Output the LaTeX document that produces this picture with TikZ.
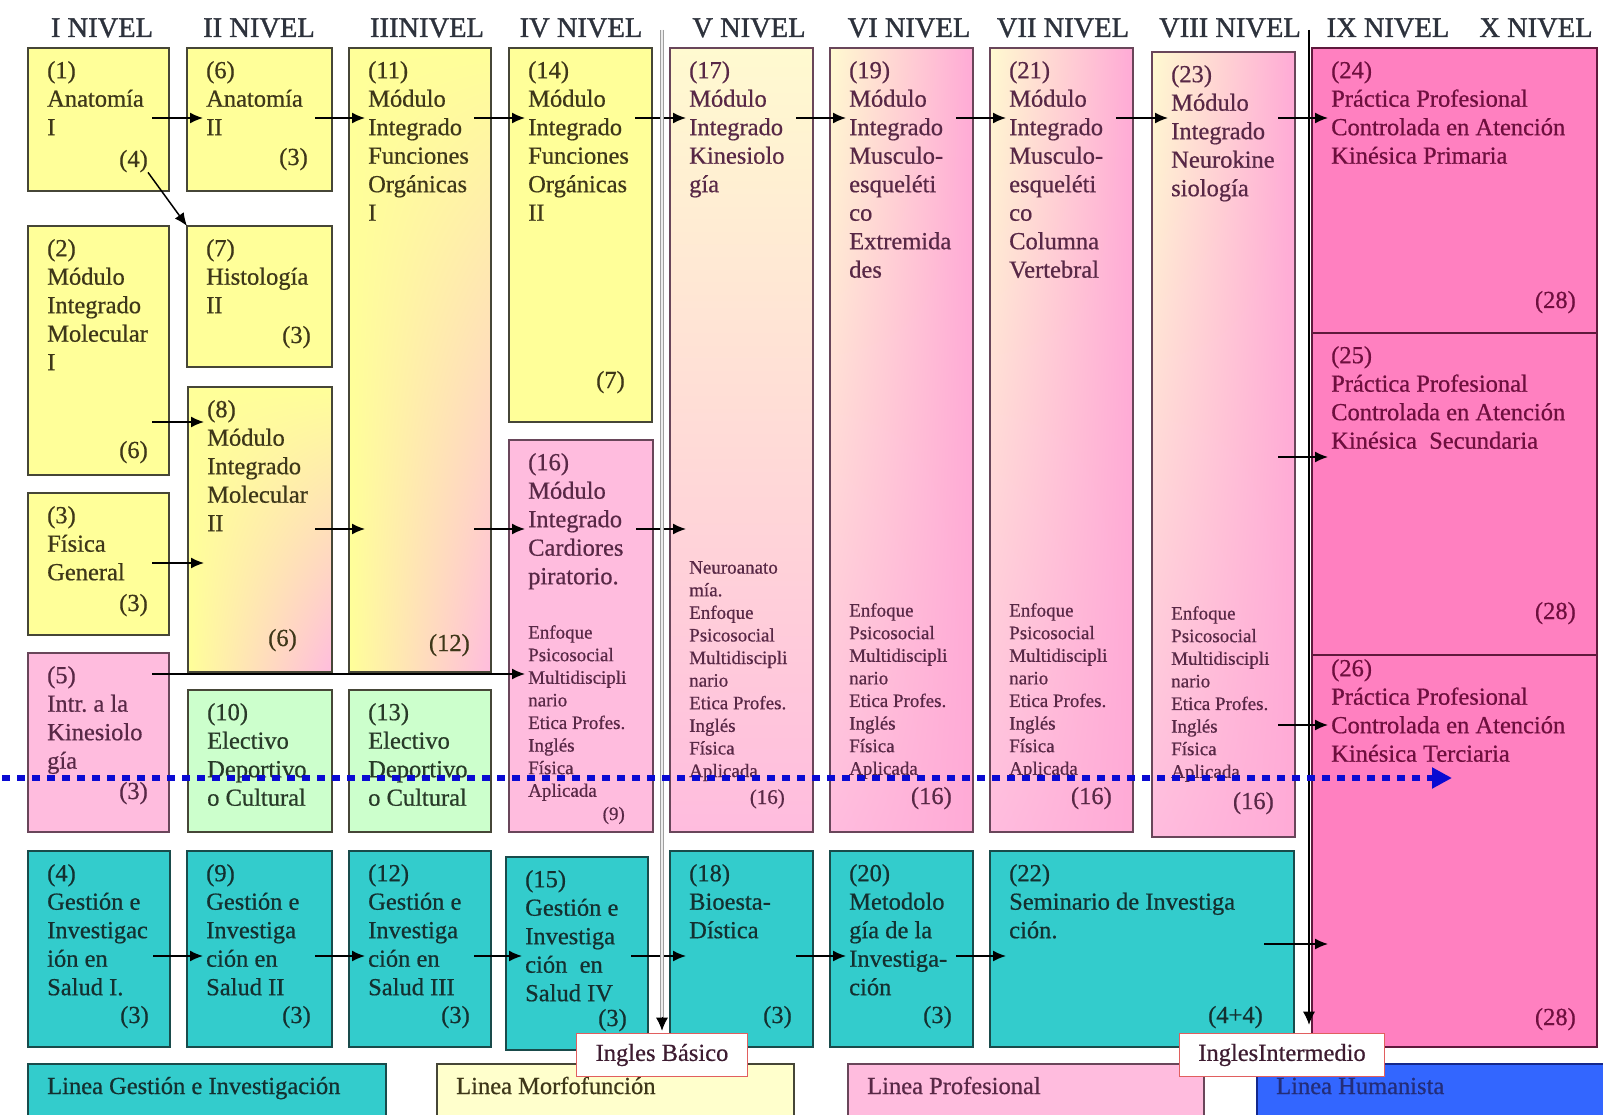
\documentclass[tikz,border=0pt]{standalone}
\usepackage{fontspec}
\setmainfont{Liberation Serif}[FakeBold=0.6]
\newfontfamily\nivelfont{Liberation Serif}[FakeBold=1.2]
\usepackage{tikz}
\usetikzlibrary{arrows.meta}
\usetikzlibrary{shadings}
\frenchspacing

\definecolor{morfo}{RGB}{255,255,153}
\definecolor{morfopale}{RGB}{255,255,204}
\definecolor{cream}{RGB}{255,250,208}
\definecolor{prof}{RGB}{255,188,222}
\definecolor{profdeep}{RGB}{255,170,214}
\definecolor{electivo}{RGB}{204,255,204}
\definecolor{gestion}{RGB}{51,204,204}
\definecolor{practica}{RGB}{255,128,192}
\definecolor{humanista}{RGB}{51,102,255}
\definecolor{inkmorfo}{RGB}{62,55,25}
\definecolor{inkprof}{RGB}{88,40,70}
\definecolor{inkpract}{RGB}{110,15,62}
\definecolor{inkgest}{RGB}{20,48,48}
\definecolor{inkelect}{RGB}{40,58,40}
\definecolor{inkhum}{RGB}{35,45,120}
\definecolor{inknivel}{RGB}{45,50,60}
\definecolor{edge}{RGB}{70,70,55}
\definecolor{edgeprof}{RGB}{105,70,90}
\definecolor{edgegest}{RGB}{25,75,75}
\definecolor{edgepract}{RGB}{95,25,60}
\definecolor{edgehum}{RGB}{20,40,140}
\definecolor{dots}{RGB}{10,10,210}
\definecolor{inglesedge}{RGB}{225,95,95}

\tikzset{
  box/.style={draw=edge, line width=1.6pt, inner sep=0pt, outer sep=0pt},
  morfobox/.style={fill=morfo},
  profbox/.style={fill=prof, draw=edgeprof},
  electbox/.style={fill=electivo},
  gestbox/.style={fill=gestion, draw=edgegest},
  practbox/.style={fill=practica, draw=edgepract},
  morfograd/.style={upper left=morfo, upper right=morfo, lower left=morfo, lower right=prof},
  kinegrad/.style={upper left=cream, upper right=cream, lower left=prof, lower right=prof, draw=edgeprof},
  musgrad/.style={upper left=cream, upper right=profdeep, lower left=prof, lower right=profdeep, draw=edgeprof},
  txt/.style={inner sep=0pt, align=left, font=\fontsize{24.5}{28.5}\selectfont, text=inkmorfo},
  list/.style={inner sep=0pt, align=left, font=\fontsize{19}{22.6}\selectfont, text=inkprof},
  proftxt/.style={text=inkprof},
  practtxt/.style={text=inkpract},
  gesttxt/.style={text=inkgest},
  electtxt/.style={text=inkelect},
  nivel/.style={inner sep=0pt, anchor=base, font=\nivelfont\fontsize{28.5}{30}\selectfont, text=inknivel},
  arr/.style={line width=1.5pt, -{Latex[length=13pt,width=11pt]}},
  greyline/.style={draw=gray!75, double=gray!15, double distance=1.8pt, line width=1.3pt},
  blackline/.style={black, line width=1.6pt},
  tipdown/.style={line width=1pt, -{Latex[length=13pt,width=12pt]}},
  dotline/.style={dots, line width=6pt, dash pattern=on 8pt off 7pt, -{Triangle[length=20pt,width=20pt]}},
  ingles/.style={draw=inglesedge, line width=1.6pt, fill=white, inner xsep=19pt, minimum height=43pt,
    font=\fontsize{24.5}{28.5}\selectfont, text=inkprof!70!black},
}

% box with its text: [text style]{name}{x,y}{width}{height}{box style}{text}
\newcommand\course[7][]{%
  \node[box,#6,minimum width=#4pt,minimum height=#5pt,anchor=north west] (#2) at (#3) {};
  \node[txt,anchor=north west,#1] (#2-t) at ([xshift=19pt,yshift=-13pt]#2.north west) {#7};}
% credits in the lower right corner
\newcommand\credit[3][]{%
  \node[txt,anchor=base east,#1] (#2-cr) at ([xshift=-21pt,yshift=24pt]#2.south east) {(#3)};}

\begin{document}
\begin{tikzpicture}[x=1pt,y=-1pt]
  \useasboundingbox (0,0) rectangle (1603,1115);
  \clip (0,0) rectangle (1603,1115);
  \fill[white] (0,0) rectangle (1603,1115);

  % levels
  \foreach \x/\t [count=\i] in {102/I NIVEL, 259/II NIVEL, 427/IIINIVEL, 581/IV NIVEL, 749/V NIVEL,
      909/VI NIVEL, 1063/VII NIVEL, 1230/VIII NIVEL, 1388/IX NIVEL, 1536/X NIVEL}
    \node[nivel] (n\i) at (\x,37) {\t};

  % first row
  \course{c1}{28,48}{141}{143}{morfobox}{(1)\\Anatomía\\I}
  \course{c6}{187,48}{145}{143}{morfobox}{(6)\\Anatomía\\II}
  \course{c11}{349,48}{142}{624}{morfograd}{(11)\\Módulo\\Integrado\\Funciones\\Orgánicas\\I}
  \course{c14}{509,48}{143}{374}{morfobox}{(14)\\Módulo\\Integrado\\Funciones\\Orgánicas\\II}
  \course[proftxt]{c17}{670,48}{143}{784}{kinegrad}{(17)\\Módulo\\Integrado\\Kinesiolo\\gía}
  \course[proftxt]{c19}{830,48}{143}{784}{musgrad}{(19)\\Módulo\\Integrado\\Musculo-\\esqueléti\\co\\Extremida\\des}
  \course[proftxt]{c21}{990,48}{143}{784}{musgrad}{(21)\\Módulo\\Integrado\\Musculo-\\esqueléti\\co\\Columna\\Vertebral}
  \course[proftxt]{c23}{1152,52}{143}{785}{musgrad}{(23)\\Módulo\\Integrado\\Neurokine\\siología}
  \course[practtxt]{c24}{1312,48}{285}{285}{practbox}{(24)\\Práctica Profesional\\Controlada en Atención\\Kinésica Primaria}
  \course[practtxt]{c25}{1312,333}{285}{322}{practbox}{(25)\\Práctica Profesional\\Controlada en Atención\\Kinésica\ \ Secundaria}
  \course[practtxt,yshift=9pt]{c26}{1312,655}{285}{392}{practbox}{(26)\\Práctica Profesional\\Controlada en Atención\\Kinésica Terciaria}

  % lower boxes of the first levels
  \course{c2}{28,226}{141}{249}{morfobox}{(2)\\Módulo\\Integrado\\Molecular\\I}
  \course{c7}{187,226}{145}{141}{morfobox}{(7)\\Histología\\II}
  \course{c8}{188,387}{144}{285}{morfograd}{(8)\\Módulo\\Integrado\\Molecular\\II}
  \course{c3}{28,493}{141}{142}{morfobox}{(3)\\Física\\General}
  \course[proftxt]{c5}{28,653}{141}{179}{profbox}{(5)\\Intr. a la\\Kinesiolo\\gía}
  \course[electtxt]{c10}{188,690}{144}{142}{electbox}{(10)\\Electivo\\Deportivo\\o Cultural}
  \course[electtxt]{c13}{349,690}{142}{142}{electbox}{(13)\\Electivo\\Deportivo\\o Cultural}
  \course[proftxt]{c16}{509,440}{144}{392}{profbox}{(16)\\Módulo\\Integrado\\Cardiores\\piratorio.}

  % research line
  \course[gesttxt]{c4}{28,851}{142}{196}{gestbox}{(4)\\Gestión e\\Investigac\\ión en\\Salud I.}
  \course[gesttxt]{c9}{187,851}{145}{196}{gestbox}{(9)\\Gestión e\\Investiga\\ción en\\Salud II}
  \course[gesttxt]{c12}{349,851}{142}{196}{gestbox}{(12)\\Gestión e\\Investiga\\ción en\\Salud III}
  \course[gesttxt]{c15}{506,857}{142}{193}{gestbox}{(15)\\Gestión e\\Investiga\\ción\ \ en\\Salud IV}
  \course[gesttxt]{c18}{670,851}{143}{196}{gestbox}{(18)\\Bioesta-\\Dística}
  \course[gesttxt]{c20}{830,851}{143}{196}{gestbox}{(20)\\Metodolo\\gía de la\\Investiga-\\ción}
  \course[gesttxt]{c22}{990,851}{304}{196}{gestbox}{(22)\\Seminario de Investiga\\ción.}

  % lists of the professional modules
  \node[list,anchor=north west] (c16-l) at ([xshift=19pt]c16.west |- 0,625)
    {Enfoque\\Psicosocial\\Multidiscipli\\nario\\Etica Profes.\\Inglés\\Física\\Aplicada};
  \node[list,anchor=north west] (c17-l) at ([xshift=19pt]c17.west |- 0,561)
    {Neuroanato\\mía.\\Enfoque\\Psicosocial\\Multidiscipli\\nario\\Etica Profes.\\Inglés\\Física\\Aplicada};
  \foreach \cn/\y in {c19/603, c21/603, c23/606}
    \node[list,anchor=north west] (\cn-l) at ([xshift=19pt]\cn.west |- 0,\y)
      {Enfoque\\Psicosocial\\Multidiscipli\\nario\\Etica Profes.\\Inglés\\Física\\Aplicada};

  % credits
  \credit{c1}{4}
  \credit[xshift=-3pt,yshift=2pt]{c6}{3}
  \credit{c7}{3}
  \credit[yshift=-7pt]{c2}{6}
  \credit{c3}{3}
  \credit[xshift=-14pt,yshift=2pt]{c8}{6}
  \credit[yshift=-3pt]{c11}{12}
  \credit[xshift=-6pt,yshift=10pt]{c14}{7}
  \credit[proftxt,yshift=9pt]{c5}{3}
  \credit[proftxt,font=\fontsize{19}{22}\selectfont,xshift=-7pt,yshift=-12pt]{c16}{9}
  \credit[proftxt,font=\fontsize{21}{24}\selectfont,xshift=-7pt,yshift=4pt]{c17}{16}
  \foreach \cn in {c19,c21,c23}
    {\credit[proftxt,yshift=4pt]{\cn}{16}}
  \credit[practtxt,yshift=1pt]{c24}{28}
  \credit[practtxt,yshift=12pt]{c25}{28}
  \credit[practtxt,yshift=-2pt]{c26}{28}
  \foreach \cn in {c4,c9,c12,c15,c18,c20}
    {\credit[gesttxt]{\cn}{3}}
  \credit[gesttxt,xshift=-10pt]{c22}{4+4}

  % prerequisites
  \foreach \a/\b in {c1/c6, c6/c11, c11/c14, c14/c17, c17/c19, c19/c21, c21/c23, c23/c24}
    \draw[arr] ([xshift=-17pt]\a.east |- 0,118) -- ([xshift=16pt]\b.west |- 0,118);
  \draw[arr] (c1-cr.south east) -- (c7.north west);
  \draw[arr] ([xshift=-17pt]c2.east |- 0,422) -- ([xshift=16pt]c8.west |- 0,422);
  \draw[arr] ([xshift=-17pt]c3.east |- 0,563) -- ([xshift=16pt]c8.west |- 0,563);
  \foreach \a/\b in {c8/c11, c11/c16, c16/c17}
    \draw[arr] ([xshift=-17pt]\a.east |- 0,529) -- ([xshift=16pt]\b.west |- 0,529);
  \draw[arr] ([xshift=-17pt]c5.east |- 0,674) -- ([xshift=16pt]c16.west |- 0,674);
  \draw[arr] ([xshift=-17pt]c23.east |- 0,457) -- ([xshift=16pt]c25.west |- 0,457);
  \draw[arr] ([xshift=-17pt]c23.east |- 0,725) -- ([xshift=16pt]c26.west |- 0,725);
  \foreach \a/\b in {c4/c9, c9/c12, c12/c15, c15/c18, c18/c20, c20/c22}
    \draw[arr] ([xshift=-17pt]\a.east |- 0,956) -- ([xshift=16pt]\b.west |- 0,956);
  \draw[arr] ([xshift=-30pt]c22.east |- 0,944) -- ([xshift=16pt]c26.west |- 0,944);

  % lines of the curriculum
  \node[box,gestbox,minimum width=358pt,minimum height=70pt,anchor=north west] (lg) at (28,1064) {};
  \node[box,fill=morfopale,minimum width=357pt,minimum height=70pt,anchor=north west] (lm) at (437,1064) {};
  \node[box,profbox,minimum width=356pt,minimum height=70pt,anchor=north west] (lp) at (848,1064) {};
  \node[box,fill=humanista,draw=edgehum,minimum width=360pt,minimum height=70pt,anchor=north west] (lh) at (1257,1064) {};
  \node[txt,gesttxt,anchor=base west] (lg-t) at ([xshift=19pt]lg.west |- 0,1094) {Linea Gestión e Investigación};
  \node[txt,anchor=base west] (lm-t) at ([xshift=19pt]lm.west |- 0,1094) {Linea Morfofunción};
  \node[txt,proftxt,anchor=base west] (lp-t) at ([xshift=19pt]lp.west |- 0,1094) {Linea Profesional};
  \node[txt,text=inkhum,anchor=base west] (lh-t) at ([xshift=19pt]lh.west |- 0,1094) {Linea Humanista};

  % english
  \node[ingles] (ib) at (662,1055) {Ingles Básico};
  \node[ingles] (ii) at (1282,1055) {InglesIntermedio};
  \coordinate (ib-top) at (662,30);
  \coordinate (ii-top) at (1309,30);
  \draw[greyline] (ib-top) -- ([yshift=12pt]ib.north);
  \draw[tipdown] ([yshift=16pt]ib.north) -- ([yshift=2pt]ib.north);
  \draw[blackline] (ii-top) -- ([yshift=12pt]ii-top |- ii.north);
  \draw[tipdown] ([yshift=16pt]ii-top |- ii.north) -- ([yshift=8pt]ii-top |- ii.north);

  % dotted arrow
  \coordinate (dot-a) at (2,778);
  \coordinate (dot-b) at (1452,778);
  \draw[dotline] (dot-a) -- (dot-b);
\end{tikzpicture}
\end{document}
